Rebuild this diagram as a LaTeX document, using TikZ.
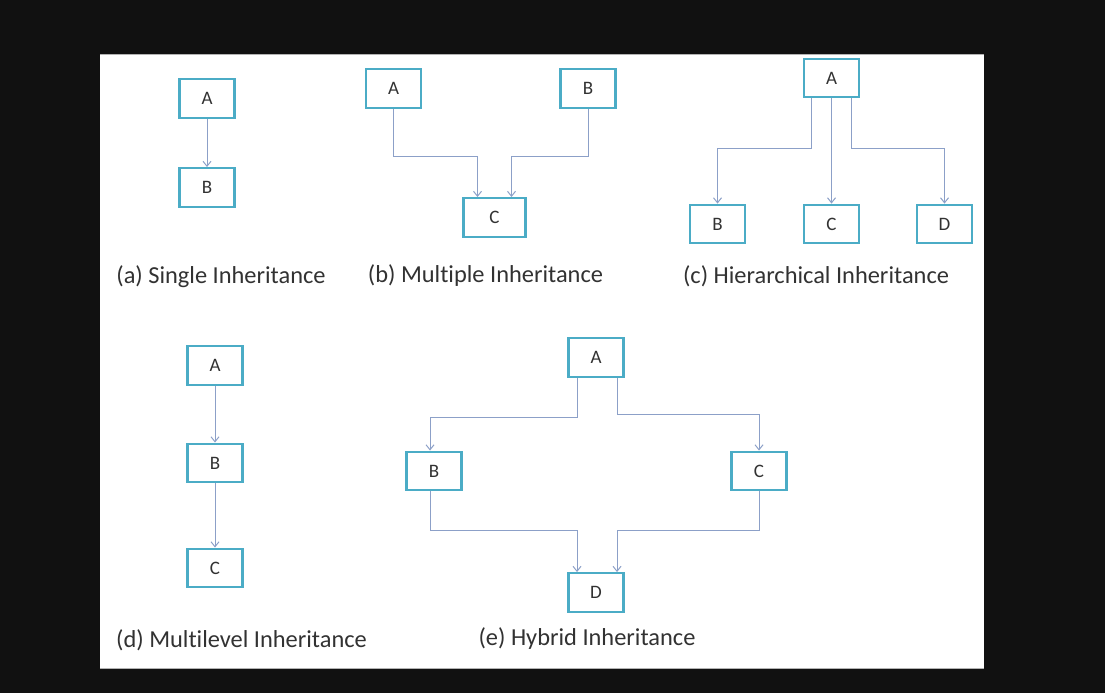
\documentclass[tikz,border=0pt]{standalone}
\usepackage{fontspec}
\setmainfont[Ligatures=NoCommon]{Carlito}
\usetikzlibrary{arrows.meta}
\definecolor{bgdark}{RGB}{17,17,17}
\definecolor{boxblue}{RGB}{75,172,198}
\definecolor{connblue}{RGB}{140,160,200}
\definecolor{txtgray}{RGB}{50,50,50}
\tikzset{
  cls/.style={draw=boxblue, line width=2.4pt, fill=white, minimum width=55pt, minimum height=38.5pt, inner sep=0pt, text=txtgray, font=\fontsize{19}{19}\selectfont},
  conn/.style={draw=connblue, line width=1pt, -{Straight Barb[length=5pt,width=8pt]}},
  caption/.style={text=txtgray, font=\fontsize{24.4}{24.4}\selectfont, inner sep=0pt, anchor=center}
}
\begin{document}
\begin{tikzpicture}[x=1pt,y=-1pt]
\fill[bgdark] (0,0) rectangle (1105,693);
\useasboundingbox (0,0) rectangle (1105,693);
\fill[white] (100,54) rectangle (984,669);
\draw[gray!60, line width=1.5pt] (100,54.5) -- (984,54.5);
\draw[gray!60, line width=1pt] (100,668.5) -- (984,668.5);

% (a) single
\node[cls] (aA) at (207,98.5) {A};
\node[cls] (aB) at (207,187.5) {B};
\draw[conn] (aA) -- (aB);
\node[caption] (capa) at (221,277) {(a) Single Inheritance};

% (b) multiple
\node[cls] (bA) at (393.5,88.5) {A};
\node[cls] (bB) at (588,88.5) {B};
\node[cls, minimum width=62pt] (bC) at (494.5,217.5) {C};
\draw[conn] (bA.south) -- ++(0,48) -| ([xshift=-17pt]bC.north);
\draw[conn] (bB.south) -- ++(0,48) -| ([xshift=17pt]bC.north);
\node[caption] (capb) at (485.5,276) {(b) Multiple Inheritance};

% (c) hierarchical
\node[cls] (cA) at (831.5,78) {A};
\node[cls] (cB) at (717.5,224) {B};
\node[cls] (cC) at (831.5,224) {C};
\node[cls] (cD) at (944.5,224) {D};
\draw[conn] ([xshift=-20pt]cA.south) -- ++(0,50) -| (cB.north);
\draw[conn] (cA) -- (cC);
\draw[conn] ([xshift=20pt]cA.south) -- ++(0,50) -| (cD.north);
\node[caption] (capc) at (816,276) {(c) Hierarchical Inheritance};

% (d) multilevel
\node[cls] (dA) at (215,365.5) {A};
\node[cls] (dB) at (215,463) {B};
\node[cls] (dC) at (215,568) {C};
\draw[conn] (dA) -- (dB);
\draw[conn] (dB) -- (dC);
\node[caption] (capd) at (241.5,640) {(d) Multilevel Inheritance};

% (e) hybrid
\node[cls] (eA) at (596,357.5) {A};
\node[cls] (eB) at (434,471) {B};
\node[cls] (eC) at (759,471) {C};
\node[cls] (eD) at (596,592.5) {D};
\draw[conn] ([xshift=-19pt]eA.south) -- ++(0,40) -| ([xshift=-4pt]eB.north);
\draw[conn] ([xshift=21pt]eA.south) -- ++(0,37) -| (eC.north);
\draw[conn] ([xshift=-4pt]eB.south) -- ++(0,39) -| ([xshift=-19pt]eD.north);
\draw[conn] (eC.south) -- ++(0,39) -| ([xshift=21pt]eD.north);
\node[caption] (cape) at (587,639) {(e) Hybrid Inheritance};
\end{tikzpicture}
\end{document}
